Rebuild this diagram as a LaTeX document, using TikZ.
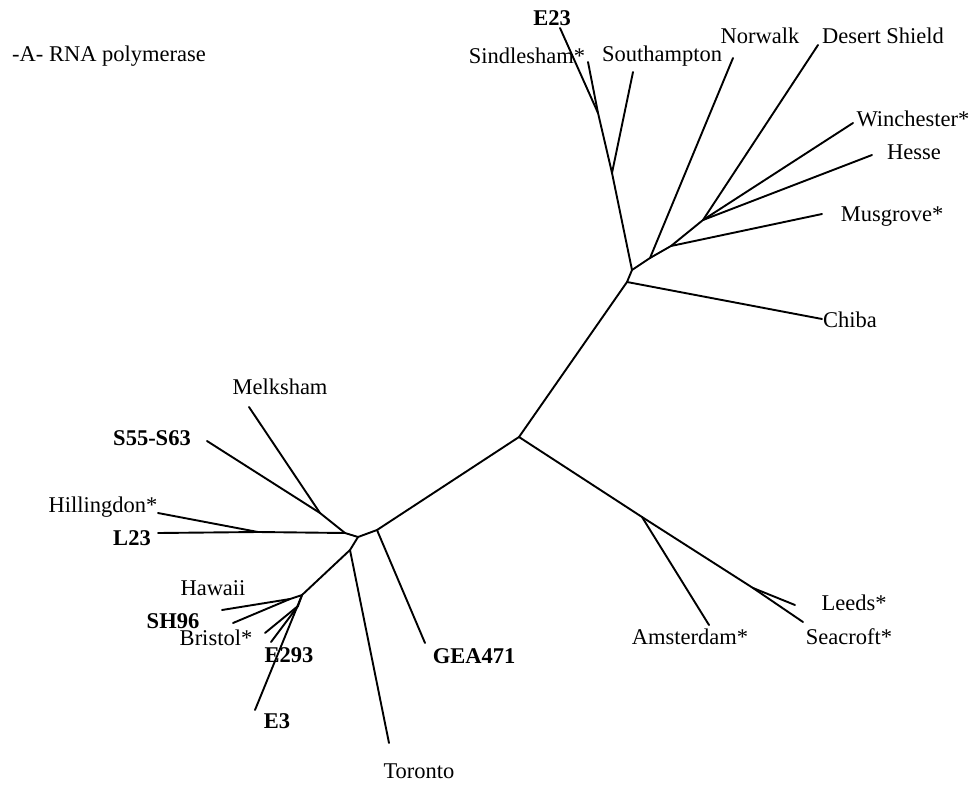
\documentclass[tikz,border=0pt]{standalone}
\usepackage{fontspec}
\setmainfont{Liberation Serif}
\begin{document}
\begin{tikzpicture}[x=1pt,y=-1pt,
  br/.style={line width=1.9pt,line cap=round,line join=round},
  lbl/.style={inner sep=0pt,font=\fontsize{22.5}{26}\selectfont},
  blbl/.style={lbl,font=\fontsize{22.5}{26}\selectfont\bfseries}]
\useasboundingbox (0,0) rectangle (976,789);
% internal nodes
\coordinate (root) at (519,437);
\coordinate (G) at (627,282);
\coordinate (H) at (632,270);
\coordinate (I) at (612,173);
\coordinate (J) at (598,113);
\coordinate (K) at (650,258);
\coordinate (L) at (671,246);
\coordinate (M) at (703,220);
\coordinate (N) at (642,517);
\coordinate (P) at (753,588);
\coordinate (D) at (377,530);
\coordinate (C) at (358,537);
\coordinate (B) at (345,533);
\coordinate (A) at (320,513);
\coordinate (E) at (350,550);
\coordinate (F) at (302,595);
\coordinate (F1) at (290,599);
\coordinate (F2) at (298,606);
\coordinate (Hj) at (258,532);
% leaf ends
\coordinate (tE23) at (560,28);
\coordinate (tSin) at (588,62);
\coordinate (tSou) at (633,72);
\coordinate (tNor) at (733,58);
\coordinate (tDes) at (818,45);
\coordinate (tWin) at (853,123);
\coordinate (tHes) at (872,155);
\coordinate (tMus) at (822,214);
\coordinate (tChi) at (822,319);
\coordinate (tAms) at (709,625);
\coordinate (tLee) at (795,605);
\coordinate (tSea) at (803,622);
\coordinate (tGEA) at (425,643);
\coordinate (tTor) at (389,743);
\coordinate (tMel) at (249,407);
\coordinate (tS55) at (207,441);
\coordinate (tHil) at (158,513);
\coordinate (tL23) at (158,533);
\coordinate (tHaw) at (222,610);
\coordinate (tSH) at (233,623);
\coordinate (tBri) at (265,633);
\coordinate (tE293) at (271,642);
\coordinate (tE3) at (255,710);
% branches
\draw[br] (root) -- (G) -- (H) -- (I) -- (J) -- (tE23);
\draw[br] (J) -- (tSin);
\draw[br] (I) -- (tSou);
\draw[br] (H) -- (K) -- (tNor);
\draw[br] (K) -- (L) -- (M) -- (tDes);
\draw[br] (M) -- (tWin);
\draw[br] (M) -- (tHes);
\draw[br] (L) -- (tMus);
\draw[br] (G) -- (tChi);
\draw[br] (root) -- (N) -- (tAms);
\draw[br] (N) -- (P) -- (tLee);
\draw[br] (P) -- (tSea);
\draw[br] (root) -- (D) -- (tGEA);
\draw[br] (D) -- (C) -- (B) -- (A) -- (tS55);
\draw[br] (A) -- (tMel);
\draw[br] (B) -- (Hj) -- (tL23);
\draw[br] (Hj) -- (tHil);
\draw[br] (C) -- (E) -- (F) -- (F1) -- (tHaw);
\draw[br] (F1) -- (tSH);
\draw[br] (E) -- (tTor);
\draw[br] (F) -- (F2) -- (tBri);
\draw[br] (F2) -- (tE293);
\draw[br] (F) -- (tE3);
% labels
\node[lbl,anchor=west] (title) at (12,56) {-A- RNA polymerase};
\node[blbl] (lE23) at (552,18) {E23};
\node[lbl] (lSin) at (527,56) {Sindlesham*};
\node[lbl] (lSou) at (662,56) {Southampton};
\node[lbl] (lNor) at (760,36) {Norwalk};
\node[lbl] (lDes) at (883,36) {Desert Shield};
\node[lbl] (lWin) at (913,119) {Winchester*};
\node[lbl] (lHes) at (914,152) {Hesse};
\node[lbl] (lMus) at (892,217) {Musgrove*};
\node[lbl] (lChi) at (850,320) {Chiba};
\node[lbl] (lMel) at (280,387) {Melksham};
\node[blbl] (lS55) at (152,438) {S55-S63};
\node[lbl] (lHil) at (103,507) {Hillingdon*};
\node[blbl] (lL23) at (132,538) {L23};
\node[lbl] (lHaw) at (213,588) {Hawaii};
\node[blbl] (lSH) at (173,621) {SH96};
\node[lbl] (lBri) at (216,638) {Bristol*};
\node[blbl] (lE293) at (289,655) {E293};
\node[blbl] (lE3) at (277,721) {E3};
\node[blbl] (lGEA) at (474,656) {GEA471};
\node[lbl] (lTor) at (419,771) {Toronto};
\node[lbl] (lAms) at (690,637) {Amsterdam*};
\node[lbl] (lLee) at (854,603) {Leeds*};
\node[lbl] (lSea) at (849,637) {Seacroft*};
\end{tikzpicture}
\end{document}
